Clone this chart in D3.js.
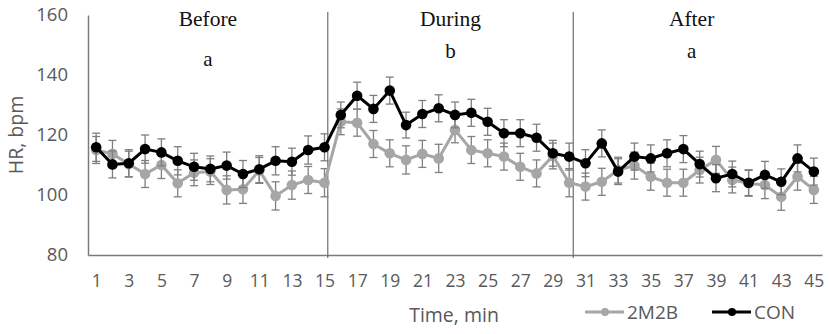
<!DOCTYPE html>
<html>
<head>
<meta charset="utf-8">
<script src="https://cdn.jsdelivr.net/npm/d3@7"></script>
<style>
  body { margin: 0; background: #fff; }
  svg { display: block; }
</style>
</head>
<body>
<div id="chart"></div>
<script>
const minutes = d3.range(1, 46);

const hr2M2B = [115, 113.7, 110.3, 107, 110, 103.9, 107.4, 107.8, 101.7, 101.9,
  108.2, 99.7, 103.3, 105, 104.1, 124.4, 124.1, 117, 113.9, 111.7,
  113.7, 112.2, 121.7, 115, 113.9, 112.8, 109.4, 107.2, 113, 104.1,
  102.8, 104.4, 108.3, 109.8, 106.1, 104.1, 104.1, 108.3, 111.7, 105,
  103.9, 103.3, 99.4, 106.1, 101.7];

const hrCON = [115.9, 110.2, 110.6, 115.3, 114.2, 111.4, 109.4, 108.7, 109.8, 107,
  108.6, 111.4, 111.1, 115, 115.9, 126.7, 133.1, 128.7, 134.8, 123.3,
  127, 128.9, 126.7, 127.4, 124.4, 120.6, 120.6, 119.1, 113.9, 112.8,
  110.6, 117.2, 107.8, 112.8, 112.2, 113.9, 115.3, 110.3, 105.6, 107,
  104.1, 106.7, 104.4, 112.2, 107.8];

const err2M2B = [4.5, 4.5, 4.3, 4.5, 4.5, 4.5, 4.3, 4.3, 4.7, 4.7,
  4.3, 4.7, 4.7, 4.5, 4.7, 4.3, 4.5, 4.5, 4.5, 4.7,
  4.5, 4.7, 4.3, 4.5, 4.5, 4.5, 4.5, 4.5, 4.3, 4.7,
  4.5, 4.5, 4.3, 4.5, 4.5, 4.5, 4.5, 4.3, 4.5, 4.3,
  4.3, 4.5, 4.5, 4.5, 4.5];

const errCON = [4.7, 4.5, 4.5, 4.7, 4.5, 4.7, 4.5, 4.3, 4.5, 4.5,
  4.5, 4.7, 4.5, 4.7, 4.5, 4.3, 4.5, 4.5, 4.5, 4.3,
  4.5, 4.5, 4.3, 4.5, 4.5, 4.5, 4.5, 4.5, 4.3, 4.5,
  4.5, 4.5, 4.3, 4.5, 4.5, 4.5, 4.5, 4.3, 4.5, 4.3,
  4.3, 4.5, 4.3, 4.5, 4.5];

const yTicks = [80, 100, 120, 140, 160];
const xTickLabels = d3.range(1, 46, 2);

const phases = ["Before", "During", "After"];
const phaseLetters = ["a", "b", "a"];
const phaseBreaks = [15.2, 30.25];

const seriesNames = ["2M2B", "CON"];

const width = 829;
const height = 334;
const margin = { top: 15, right: 7, bottom: 79, left: 88 };

const xScale = d3.scaleLinear()
  .domain([0.5, 45.5])
  .range([margin.left, width - margin.right]);

const yScale = d3.scaleLinear()
  .domain([80, 160])
  .range([height - margin.bottom, margin.top]);

const svg = d3.select("#chart")
  .append("svg")
  .attr("width", width)
  .attr("height", height);

const axisColor = "#7a7a7a";
const textColor = "#595959";
const sansFont = "'Open Sans', 'Noto Sans', sans-serif";
const serifFont = "'Liberation Serif', 'DejaVu Serif', serif";

// y axis
const yAxis = d3.axisLeft(yScale)
  .tickValues(yTicks)
  .tickSize(0)
  .tickPadding(20);

svg.append("g")
  .attr("transform", `translate(${margin.left}, 0)`)
  .call(yAxis)
  .call(g => g.select(".domain").attr("stroke", axisColor).attr("stroke-width", 1.5))
  .call(g => g.selectAll(".tick text")
    .attr("fill", textColor)
    .style("font-family", sansFont)
    .style("font-size", "18.5px"));

// x axis
const xAxis = d3.axisBottom(xScale)
  .tickValues(xTickLabels)
  .tickSize(0)
  .tickPadding(20)
  .tickSizeOuter(0);

svg.append("g")
  .attr("transform", `translate(0, ${yScale(80)})`)
  .call(xAxis)
  .call(g => g.select(".domain").attr("stroke", axisColor).attr("stroke-width", 1.5))
  .call(g => g.selectAll(".tick text")
    .attr("fill", textColor)
    .style("font-family", sansFont)
    .style("font-size", "17.5px"));

// axis titles
svg.append("text")
  .attr("transform", `translate(23, ${(yScale(80) + yScale(160)) / 2}) rotate(-90)`)
  .attr("text-anchor", "middle")
  .attr("fill", textColor)
  .style("font-family", sansFont)
  .style("font-size", "19.5px")
  .text("HR, bpm");

svg.append("text")
  .attr("x", 454)
  .attr("y", 322)
  .attr("text-anchor", "middle")
  .attr("fill", textColor)
  .style("font-family", sansFont)
  .style("font-size", "19.5px")
  .text("Time, min");

// phase separators
svg.selectAll(".phase-line")
  .data(phaseBreaks)
  .enter()
  .append("line")
  .attr("class", "phase-line")
  .attr("x1", d => xScale(d))
  .attr("x2", d => xScale(d))
  .attr("y1", yScale(160) - 3)
  .attr("y2", yScale(80) + 3)
  .attr("stroke", "#6e6e6e")
  .attr("stroke-width", 1.2);

const phaseBounds = [0.5, ...phaseBreaks, 45.5];
const phaseCenters = phases.map((p, i) => (phaseBounds[i] + phaseBounds[i + 1]) / 2);

svg.selectAll(".phase-label")
  .data(phases)
  .enter()
  .append("text")
  .attr("class", "phase-label")
  .attr("x", (d, i) => xScale(phaseCenters[i]) - (i === 2 ? 6 : 0))
  .attr("y", 26)
  .attr("text-anchor", "middle")
  .attr("fill", "#111")
  .style("font-family", serifFont)
  .style("font-size", "21.5px")
  .text(d => d);

svg.selectAll(".phase-letter")
  .data(phaseLetters)
  .enter()
  .append("text")
  .attr("class", "phase-letter")
  .attr("x", (d, i) => xScale(phaseCenters[i]) - (i === 2 ? 6 : 0))
  .attr("y", (d, i) => i === 0 ? 66 : 58)
  .attr("text-anchor", "middle")
  .attr("fill", "#111")
  .style("font-family", serifFont)
  .style("font-size", "21px")
  .text(d => d);

// series
const series = [
  { name: seriesNames[0], values: hr2M2B, errors: err2M2B, color: "#a6a6a6" },
  { name: seriesNames[1], values: hrCON, errors: errCON, color: "#000000" }
];

const line = d3.line()
  .x((d, i) => xScale(minutes[i]))
  .y(d => yScale(d));

series.forEach(s => {
  const g = svg.append("g").attr("class", "series");

  const bars = g.selectAll(".err")
    .data(s.values)
    .enter()
    .append("g")
    .attr("class", "err")
    .attr("stroke", "#7f7f7f")
    .attr("stroke-width", 1.3);

  bars.append("line")
    .attr("x1", (d, i) => xScale(minutes[i]))
    .attr("x2", (d, i) => xScale(minutes[i]))
    .attr("y1", (d, i) => yScale(d + s.errors[i]))
    .attr("y2", (d, i) => yScale(d - s.errors[i]));

  bars.append("line")
    .attr("x1", (d, i) => xScale(minutes[i]) - 4)
    .attr("x2", (d, i) => xScale(minutes[i]) + 4)
    .attr("y1", (d, i) => yScale(d + s.errors[i]))
    .attr("y2", (d, i) => yScale(d + s.errors[i]));

  bars.append("line")
    .attr("x1", (d, i) => xScale(minutes[i]) - 4)
    .attr("x2", (d, i) => xScale(minutes[i]) + 4)
    .attr("y1", (d, i) => yScale(d - s.errors[i]))
    .attr("y2", (d, i) => yScale(d - s.errors[i]));

  g.append("path")
    .datum(s.values)
    .attr("fill", "none")
    .attr("stroke", s.color)
    .attr("stroke-width", 3)
    .attr("d", line);

  g.selectAll(".pt")
    .data(s.values)
    .enter()
    .append("circle")
    .attr("class", "pt")
    .attr("cx", (d, i) => xScale(minutes[i]))
    .attr("cy", d => yScale(d))
    .attr("r", 5.3)
    .attr("fill", s.color);
});

// legend
const legendX = [585, 712];
const legend = svg.selectAll(".legend")
  .data(series)
  .enter()
  .append("g")
  .attr("class", "legend")
  .attr("transform", (d, i) => `translate(${legendX[i]}, 312)`);

legend.append("line")
  .attr("x1", 0)
  .attr("x2", 39)
  .attr("stroke", d => d.color)
  .attr("stroke-width", 3);

legend.append("circle")
  .attr("cx", 20)
  .attr("r", 4)
  .attr("fill", d => d.color);

legend.append("text")
  .attr("x", 42)
  .attr("y", 7)
  .attr("fill", textColor)
  .style("font-family", sansFont)
  .style("font-size", "19px")
  .text(d => d.name);
</script>
</body>
</html>
